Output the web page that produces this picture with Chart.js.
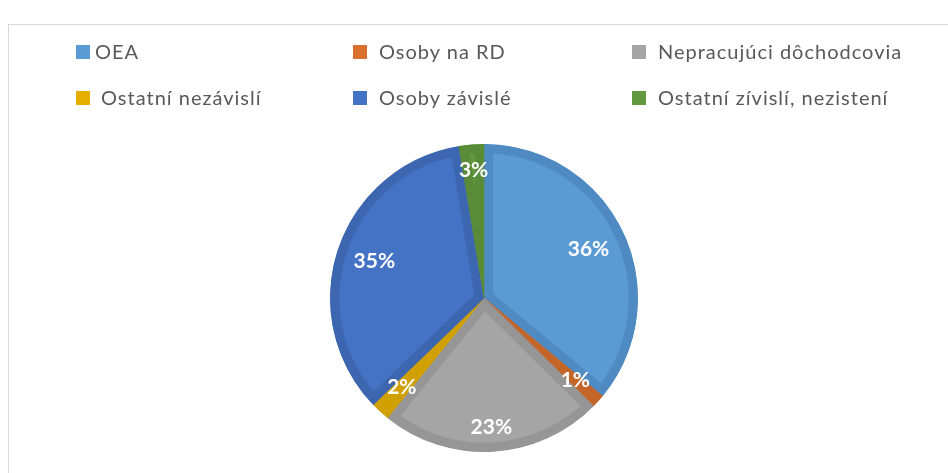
<!DOCTYPE html>
<html>
<head>
<meta charset="utf-8">
<script src="https://cdn.jsdelivr.net/npm/chart.js@4/dist/chart.umd.min.js"></script>
<style>
    html, body { margin: 0; padding: 0; background: #fff; }
    #wrap { position: relative; width: 948px; height: 473px; overflow: hidden; }
    #frame { position: absolute; left: 8px; top: 24px; width: 960px; height: 470px; border: 1px solid #d9d9d9; box-sizing: border-box; }
    #pie { position: absolute; left: 0; top: 0; }
    .leg { position: absolute; font-family: Lato, "Open Sans", sans-serif; font-size: 20px; letter-spacing: 1px; color: #595959; white-space: nowrap; line-height: 20px; }
    .leg span.box { display: inline-block; width: 14px; height: 14px; }
</style>
</head>
<body>
<div id="wrap">
    <div id="frame"></div>
    <canvas id="pie" width="948" height="473"></canvas>
    <div id="legend"></div>
</div>
<script>
// Categories and shares (%)
const categories = ['OEA', 'Osoby na RD', 'Nepracujúci dôchodcovia', 'Ostatní nezávislí', 'Osoby závislé', 'Ostatní zívislí, nezistení'];
const shares = [36, 1.4, 23.4, 2, 34.6, 2.6];

// Slice fills and their darker inner borders
const fillColors = ['#5B9BD5', '#D9702E', '#A5A5A5', '#E6AF00', '#4472C4', '#62993E'];
const borderColors = ['#4F8AC3', '#C4652A', '#969696', '#D09F00', '#3D66B1', '#598B38'];

// How far out (as part of the radius) each percentage label sits
const labelRadius = [0.75, 0.8, 0.84, 0.79, 0.75, 0.83];

// Legend grid: column x, row top, gap between box and text
const legendCols = [76, 353, 632];
const legendRows = [41, 87];
const legendGaps = [5, 12, 12, 11, 12, 12];

function buildLegend() {
    const holder = document.getElementById('legend');
    categories.forEach((name, i) => {
        const el = document.createElement('div');
        el.className = 'leg';
        el.style.left = legendCols[i % 3] + 'px';
        el.style.top = legendRows[Math.floor(i / 3)] + 'px';
        el.innerHTML = '<span class="box" style="background:' + fillColors[i] + ';margin-right:' + legendGaps[i] + 'px"></span>' + name;
        holder.appendChild(el);
    });
}

// Draws white percentage labels on the slices
const pctLabels = {
    id: 'pctLabels',
    afterDatasetsDraw(chart) {
        const ctx = chart.ctx;
        const meta = chart.getDatasetMeta(0);
        const total = shares.reduce((a, b) => a + b, 0);
        ctx.save();
        ctx.fillStyle = '#ffffff';
        ctx.font = 'bold 21px Lato, "Open Sans", sans-serif';
        ctx.textAlign = 'center';
        ctx.textBaseline = 'middle';
        meta.data.forEach((arc, i) => {
            const p = arc.getProps(['x', 'y', 'startAngle', 'endAngle', 'outerRadius'], true);
            const mid = (p.startAngle + p.endAngle) / 2;
            const r = p.outerRadius * labelRadius[i];
            const pct = Math.round(shares[i] / total * 100) + '%';
            ctx.fillText(pct, p.x + Math.cos(mid) * r, p.y + Math.sin(mid) * r);
        });
        ctx.restore();
    }
};

const ctx = document.getElementById('pie').getContext('2d');
new Chart(ctx, {
    type: 'pie',
    data: {
        labels: categories,
        datasets: [{
            data: shares,
            backgroundColor: fillColors,
            borderColor: borderColors,
            borderWidth: 9,
            borderAlign: 'inner'
        }]
    },
    options: {
        responsive: false,
        animation: false,
        layout: { padding: { top: 144, bottom: 21, left: 330, right: 310 } },
        plugins: {
            legend: { display: false },
            tooltip: { enabled: false }
        }
    },
    plugins: [pctLabels]
});

buildLegend();
</script>
</body>
</html>
